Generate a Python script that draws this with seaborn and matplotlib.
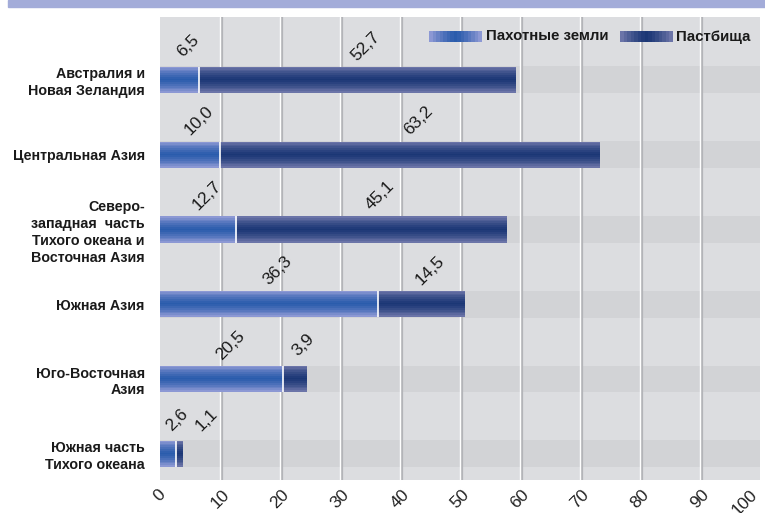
import numpy as np
import pandas as pd
import matplotlib
matplotlib.use("Agg")
import matplotlib.pyplot as plt
from matplotlib.patches import Rectangle
from matplotlib.colors import to_rgb
import seaborn as sns

# ---------------- data ----------------
regions = [
    "Австралия и\nНовая Зеландия",
    "Центральная Азия",
    "Северо-\nзападная  часть\nТихого океана и\nВосточная Азия",
    "Южная Азия",
    "Юго-Восточная\nАзия",
    "Южная часть\nТихого океана",
]
arable = [6.5, 10.0, 12.7, 36.3, 20.5, 2.6]
pasture = [52.7, 63.2, 45.1, 14.5, 3.9, 1.1]
series_names = ["Пахотные земли", "Пастбища"]
xticks = [0, 10, 20, 30, 40, 50, 60, 70, 80, 90, 100]

# ---------------- style ----------------
sns.set_style("white")
plt.rcParams["font.family"] = ["Liberation Sans", "DejaVu Sans"]
NARROW = ["Liberation Sans Narrow", "Liberation Sans", "DejaVu Sans"]

BG = "#dcdde0"
BAND = "#d2d3d6"
AR_C, AR_E = "#2a5cac", "#8c98d4"
PA_C, PA_E = "#1b3775", "#6b74a8"
BAR_H = 0.35

df = pd.DataFrame({"region": regions, "arable": arable, "pasture": pasture})
df["total"] = df["arable"] + df["pasture"]

fig = plt.figure(figsize=(7.65, 5.13), dpi=100)
fig.patch.set_facecolor("white")
ax = fig.add_axes([160 / 765, 33 / 513, 600 / 765, 463 / 513])
ax.set_facecolor(BG)

# bars via seaborn
sns.barplot(data=df, x="total", y="region", color=PA_C, width=BAR_H,
            orient="h", ax=ax, zorder=3)
sns.barplot(data=df, x="arable", y="region", color=AR_C, width=BAR_H,
            orient="h", ax=ax, zorder=3)

n = len(regions)


def gradient(center, edge, steps=15):
    c = np.array(to_rgb(center))
    e = np.array(to_rgb(edge))
    t = np.linspace(-1, 1, steps)
    f = np.abs(t) ** 1.3
    return c[None, :] * (1 - f[:, None]) + e[None, :] * f[:, None]


grad_pa = gradient(PA_C, PA_E)[:, None, :]
grad_ar = gradient(AR_C, AR_E)[:, None, :]

patches = list(ax.patches)
for k, p in enumerate(patches):
    x0, y0 = p.get_x(), p.get_y()
    w, h = p.get_width(), p.get_height()
    img = grad_pa if k < n else grad_ar
    p.set_facecolor("none")
    p.set_edgecolor("none")
    im = ax.imshow(img, extent=(x0, x0 + w, y0 + h, y0), aspect="auto",
                   interpolation="nearest", zorder=3 + (k >= n))
    im.set_clip_path(p)

ax.set_xlim(0, 100)
ax.set_ylim(n - 1 + 0.35, -0.84)

# separators between segments
for i, a in enumerate(arable):
    ax.plot([a, a], [i - BAR_H / 2, i + BAR_H / 2], color="white", lw=1.2,
            zorder=5, solid_capstyle="butt")

# background bands
for i in range(n):
    ax.axhspan(i - BAR_H / 2 - 0.005, i + BAR_H / 2 + 0.005, color=BAND,
               zorder=0, lw=0)

# grid lines (white + grey shadow)
for xv in xticks[1:-1]:
    ax.axvline(xv + 0.25, color="#b3b4b8", lw=1.6, zorder=1)
    ax.axvline(xv - 0.08, color="white", lw=1.0, zorder=1)

# value labels
for i in range(n):
    a, p = arable[i], pasture[i]
    centers = [a / 2 + 1.5, a + p / 2 + 1.5]
    if centers[1] - centers[0] < 5:
        centers[1] = centers[0] + 5
    for v, cx in zip([a, p], centers):
        ax.text(cx, i - 0.45, f"{v:.1f}".replace(".", ","), rotation=45,
                ha="center", va="center", fontsize=12.5, color="#1a1a1a",
                zorder=6)

# axes formatting
ax.set_xticks(xticks)
ax.set_xticklabels([str(t) for t in xticks], rotation=45, ha="center",
                   va="top", fontsize=12.5, color="#222222")
ax.get_xticklabels()[-1].set_ha("right")
ax.tick_params(axis="x", length=0, pad=5)
ax.tick_params(axis="y", length=0, pad=11)
for lab in ax.get_yticklabels():
    lab.set_fontfamily(NARROW)
    lab.set_fontweight("bold")
    lab.set_fontsize(10.3)
    lab.set_color("#1a1a1a")
    lab.set_ha("right")
    lab.set_multialignment("right")
    lab.set_linespacing(1.27)
ax.set_xlabel("")
ax.set_ylabel("")
for s in ax.spines.values():
    s.set_visible(False)

# top banner
fig.patches.append(Rectangle((8 / 765, 1 - 7 / 513), 1, 7 / 513,
                             transform=fig.transFigure, color="#a3acd9",
                             zorder=0))


# legend (gradient swatches)
def hgrad(center, edge):
    g = gradient(center, edge, steps=15)
    return g[None, :, :]


for (cx0, tx), name, (cc, ee) in zip([(429, 486), (620, 676)], series_names,
                                     [(AR_C, AR_E), (PA_C, PA_E)]):
    sax = fig.add_axes([cx0 / 765, (513 - 42) / 513, 53 / 765, 11 / 513])
    sax.imshow(hgrad(cc, ee), aspect="auto", interpolation="nearest")
    sax.set_axis_off()
    fig.text(tx / 765, (513 - 36.5) / 513, name, ha="left", va="center",
             fontsize=10.8, fontweight="bold", family=NARROW,
             color="#1a1a1a")

fig.savefig("out.png", dpi=100)
